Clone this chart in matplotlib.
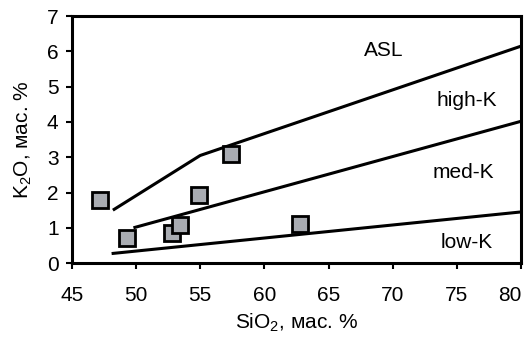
import matplotlib
matplotlib.use("Agg")
import matplotlib.pyplot as plt

plt.rcParams['font.family'] = ['Liberation Sans', 'DejaVu Sans']
plt.rcParams['mathtext.fontset'] = 'custom'
plt.rcParams['mathtext.rm'] = 'Liberation Sans'
plt.rcParams['mathtext.it'] = 'Liberation Sans'

# Boundary lines of the K2O–SiO2 classification
asl_x = [48.2, 55.0, 80.0]
asl_y = [1.5, 3.05, 6.15]
highk_x = [49.8, 80.0]
highk_y = [1.0, 4.02]
lowk_x = [48.1, 80.0]
lowk_y = [0.27, 1.45]

# Samples
sio2 = [47.2, 49.3, 52.8, 53.4, 54.9, 57.4, 62.8]
k2o = [1.80, 0.72, 0.84, 1.07, 1.92, 3.08, 1.12]

field_labels = ["ASL", "high-K", "med-K", "low-K"]
label_x = [69.3, 75.8, 75.5, 75.8]
label_y = [6.03, 4.62, 2.56, 0.58]

fig = plt.figure(figsize=(5.28, 3.43), dpi=100)
ax = fig.add_axes([0.136, 0.233, 0.851, 0.72])

for xs, ys in [(asl_x, asl_y), (highk_x, highk_y), (lowk_x, lowk_y)]:
    ax.plot(xs, ys, color='black', lw=2.2, solid_capstyle='butt', zorder=2)

ax.plot(sio2, k2o, linestyle='none', marker='s', markersize=12,
        markerfacecolor='#a9acb2', markeredgecolor='black',
        markeredgewidth=2.0, zorder=3)

for t, x, y in zip(field_labels, label_x, label_y):
    ax.text(x, y, t, ha='center', va='center', fontsize=15)

ax.set_xlim(45, 80)
ax.set_ylim(0, 7)
ax.set_xticks(range(45, 81, 5))
ax.set_yticks(range(0, 8))
ax.tick_params(direction='out', length=4.5, width=1.5, labelsize=15,
               top=False, right=False)
ax.tick_params(axis='x', pad=12)
ax.tick_params(axis='y', pad=5)
# keep the last x tick label inside the canvas
ax.xaxis.get_major_ticks()[-1].label1.set_horizontalalignment('right')
for s in ax.spines.values():
    s.set_linewidth(2.2)

ax.set_xlabel('SiO$_2$, мас. %', fontsize=15, labelpad=5)
ax.set_ylabel('K$_2$O, мас. %', fontsize=15, labelpad=9)

fig.savefig('out.png', dpi=100, facecolor='white')
